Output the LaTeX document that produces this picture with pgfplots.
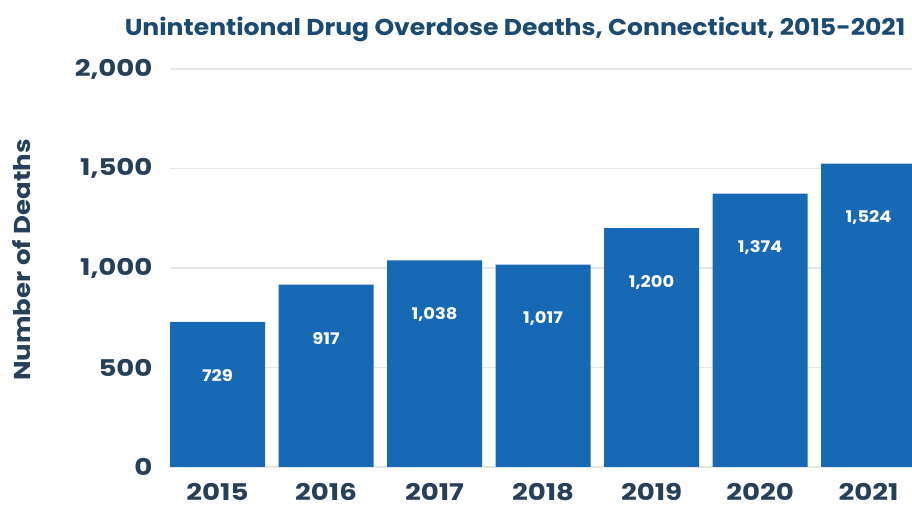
\documentclass[border=0pt]{standalone}
\usepackage{pgfplots}
\pgfplotsset{compat=1.18}
\usepackage{fontspec}
\setmainfont{Poppins}
\newfontfamily\tickf{Poppins}[FakeStretch=1.2]
\newfontfamily\titlef{Poppins}[FakeStretch=1.09]
\newfontfamily\ylabf{Poppins}[FakeStretch=1.13]
\newfontfamily\valf{Poppins}[FakeStretch=1.12]
\definecolor{barblue}{HTML}{1769B6}
\definecolor{titleblue}{HTML}{1B4A72}
\definecolor{ticknavy}{HTML}{27405A}
\definecolor{gridgray}{HTML}{E6E6E6}
\begin{document}
\begin{tikzpicture}[x=1pt,y=1pt]
\useasboundingbox (0,0) rectangle (912,508);
\begin{axis}[
  at={(170pt,41pt)}, anchor=south west,
  scale only axis, width=742pt, height=398pt,
  xmin=-0.4378, xmax=6.40, ymin=0, ymax=2000,
  axis line style={draw=none},
  ymajorgrids, grid style={gridgray, line width=1.2pt},
  ytick={0,500,1000,1500,2000},
  xtick={0,1,2,3,4,5,6},
  xticklabels={2015,2016,2017,2018,2019,2020,2021},
  tick style={draw=none},
  /pgf/number format/.cd, fixed, precision=0, 1000 sep={,}, assume math mode=true,
  /pgfplots/.cd,
  ticklabel style={font=\tickf\fontsize{23}{26}\selectfont\bfseries, text=ticknavy},
  yticklabel style={xshift=-14pt},
  xticklabel style={yshift=-9pt},
  ybar, bar width=95pt,
  nodes near coords,
  every node near coord/.append style={anchor=center, yshift=-54pt, text=white, font=\valf\fontsize{16}{19}\selectfont\bfseries},
  clip=true,
]
\addplot[fill=barblue, draw=none] coordinates {(0,729) (1,917) (2,1038) (3,1017) (4,1200) (5,1374) (6,1524)};
\end{axis}
\node[text=titleblue, font=\titlef\fontsize{23}{26}\selectfont\bfseries] at (515,479) {Unintentional Drug Overdose Deaths, Connecticut, 2015-2021};
\node[text=ticknavy, rotate=90, font=\ylabf\fontsize{23}{26}\selectfont\bfseries] at (22,248) {Number of Deaths};
\end{tikzpicture}
\end{document}
